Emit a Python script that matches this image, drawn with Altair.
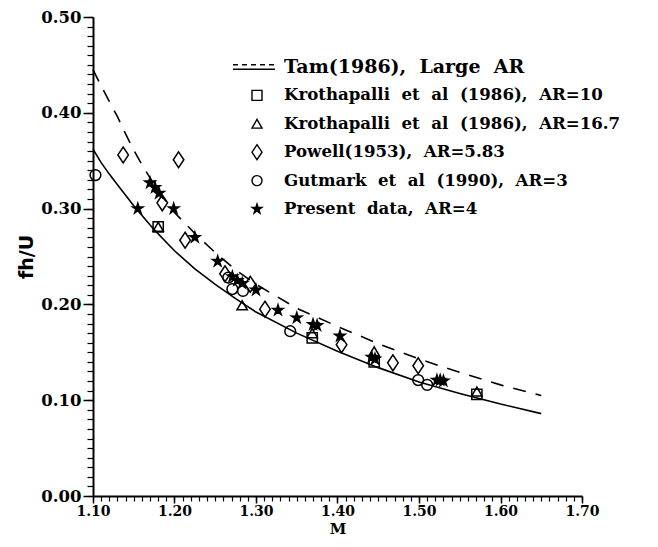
import altair as alt
import pandas as pd

# ---------------- data ----------------
series_names = [
    "Tam(1986), Large AR",
    "Krothapalli et al (1986), AR=10",
    "Krothapalli et al (1986), AR=16.7",
    "Powell(1953), AR=5.83",
    "Gutmark et al (1990), AR=3",
    "Present data, AR=4",
]
legend_rows = [0, 1, 2, 3, 4, 5]

# Tam (1986) curves
tam_dash_M = [1.10, 1.11, 1.12, 1.13, 1.14, 1.15, 1.16, 1.17, 1.18, 1.19, 1.20,
              1.225, 1.25, 1.275, 1.30, 1.35, 1.40, 1.45, 1.50, 1.55, 1.60, 1.65]
tam_dash_v = [0.445, 0.428, 0.412, 0.396, 0.378, 0.361, 0.346, 0.332, 0.319, 0.307, 0.296,
              0.274, 0.254, 0.236, 0.221, 0.196, 0.177, 0.159, 0.143, 0.129, 0.116, 0.105]
tam_solid_M = [1.10, 1.11, 1.12, 1.13, 1.15, 1.175, 1.20, 1.225, 1.25, 1.275, 1.30,
               1.35, 1.40, 1.45, 1.50, 1.55, 1.60, 1.65]
tam_solid_v = [0.362, 0.348, 0.336, 0.325, 0.303, 0.278, 0.256, 0.237, 0.221, 0.206, 0.192,
               0.170, 0.151, 0.134, 0.119, 0.107, 0.096, 0.086]

# Krothapalli et al (1986), AR=10  (squares)
sq_M = [1.180, 1.369, 1.445, 1.571]
sq_v = [0.281, 0.165, 0.140, 0.106]
# Krothapalli et al (1986), AR=16.7  (triangles)
tri_M = [1.180, 1.283, 1.369, 1.445, 1.571]
tri_v = [0.281, 0.199, 0.170, 0.151, 0.109]
# Powell (1953), AR=5.83  (diamonds)
dia_M = [1.137, 1.205, 1.185, 1.213, 1.262, 1.293, 1.311, 1.405, 1.468, 1.499]
dia_v = [0.356, 0.351, 0.306, 0.267, 0.232, 0.221, 0.195, 0.158, 0.139, 0.136]
# Gutmark et al (1990), AR=3  (circles)
cir_M = [1.103, 1.266, 1.271, 1.284, 1.342, 1.499, 1.510]
cir_v = [0.335, 0.228, 0.216, 0.214, 0.172, 0.121, 0.116]
# Present data, AR=4  (stars)
star_M = [1.155, 1.170, 1.176, 1.181, 1.199, 1.225, 1.253, 1.271, 1.277, 1.283, 1.300,
          1.327, 1.350, 1.370, 1.375, 1.403, 1.442, 1.446, 1.522, 1.526, 1.530]
star_v = [0.300, 0.327, 0.322, 0.316, 0.300, 0.270, 0.245, 0.229, 0.225, 0.222, 0.215,
          0.194, 0.186, 0.179, 0.178, 0.167, 0.145, 0.143, 0.121, 0.121, 0.120]

x_major = [1.10, 1.20, 1.30, 1.40, 1.50, 1.60, 1.70]
y_major = [0.00, 0.10, 0.20, 0.30, 0.40, 0.50]
x_minor = [round(1.10 + i * 0.01, 2) for i in range(61)]
y_minor = [round(i * 0.01, 2) for i in range(51)]

# ---------------- tables ----------------
pts = pd.concat([
    pd.DataFrame({"M": sq_M, "v": sq_v, "series": series_names[1]}),
    pd.DataFrame({"M": tri_M, "v": tri_v, "series": series_names[2]}),
    pd.DataFrame({"M": dia_M, "v": dia_v, "series": series_names[3]}),
    pd.DataFrame({"M": cir_M, "v": cir_v, "series": series_names[4]}),
    pd.DataFrame({"M": star_M, "v": star_v, "series": series_names[5]}),
], ignore_index=True)
dash_df = pd.DataFrame({"M": tam_dash_M, "v": tam_dash_v})
solid_df = pd.DataFrame({"M": tam_solid_M, "v": tam_solid_v})
leg_df = pd.DataFrame({
    "series": series_names,
    "row": legend_rows,
    "label": [s.replace(" ", "\u00a0 ") for s in series_names],
})

# ---------------- symbols ----------------
tam_sym = ("M-4.8,-0.45H-3.8M-3,-0.45H-2M-1.2,-0.45H-0.2M0.6,-0.45H1.6M2.4,-0.45H3.4"
           "M-4.8,0.45H3.6")
diamond_sym = "M0,-1.5L1,0L0,1.5L-1,0Z"
star_sym = ("M0,-1L0.223,-0.307L0.951,-0.309L0.361,0.117L0.588,0.809L0,0.38"
            "L-0.588,0.809L-0.361,0.117L-0.951,-0.309L-0.223,-0.307Z")
shape_range = [tam_sym, "square", "triangle-up", diamond_sym, "circle", star_sym]
fill_range = ["transparent", "transparent", "transparent", "transparent", "transparent", "black"]
size_range = [100, 120, 140, 130, 190, 200]

shape_scale = alt.Scale(domain=series_names, range=shape_range)
fill_scale = alt.Scale(domain=series_names, range=fill_range)

xscale = alt.Scale(domain=[1.10, 1.70], nice=False, zero=False)
yscale = alt.Scale(domain=[0.0, 0.5], nice=False)

LABEL_FONT = "DejaVu Serif"

x_major_axis = alt.Axis(values=x_major, format=".2f", orient="bottom", tickSize=7,
                        tickWidth=1.5, tickColor="black", domainWidth=2, domainColor="black",
                        labelFont=LABEL_FONT, labelFontWeight="bold", labelFontSize=14,
                        labelColor="black", labelPadding=1, labelFlush=False, grid=False,
                        title="M", titleFont=LABEL_FONT, titleFontWeight="bold",
                        titleFontSize=15, titleColor="black", titlePadding=3)
x_minor_axis = alt.Axis(values=x_minor, orient="bottom", labels=False, tickSize=5,
                        tickWidth=1.2, tickColor="black", domain=False, grid=False, title="")
y_major_axis = alt.Axis(values=y_major, format=".2f", orient="left", tickSize=10,
                        tickWidth=1.5, tickColor="black", domainWidth=2, domainColor="black",
                        labelFont=LABEL_FONT, labelFontWeight="bold", labelFontSize=16.5,
                        labelColor="black", labelPadding=2, labelFlush=False, grid=False,
                        title="fh/U", titleFont="DejaVu Sans", titleFontWeight="bold",
                        titleFontSize=19, titleColor="black", titlePadding=4)
y_minor_axis = alt.Axis(values=y_minor, orient="left", labels=False, tickSize=6,
                        tickWidth=1.2, tickColor="black", domain=False, grid=False, title="")

solid = alt.Chart(solid_df).mark_line(color="black", strokeWidth=1.6).encode(
    x=alt.X("M:Q", scale=xscale, axis=x_minor_axis),
    y=alt.Y("v:Q", scale=yscale, axis=y_minor_axis),
)
dashed = alt.Chart(dash_df).mark_line(color="black", strokeWidth=1.6, strokeDash=[13, 10]).encode(
    x=alt.X("M:Q", scale=xscale, axis=x_major_axis),
    y=alt.Y("v:Q", scale=yscale, axis=y_major_axis),
)

points = alt.Chart(pts).mark_point(filled=True, stroke="black", strokeWidth=1.5, opacity=1).encode(
    x=alt.X("M:Q", scale=xscale, axis=None),
    y=alt.Y("v:Q", scale=yscale, axis=None),
    shape=alt.Shape("series:N", scale=shape_scale, legend=None),
    fill=alt.Fill("series:N", scale=fill_scale, legend=None),
    size=alt.Size("series:N", scale=alt.Scale(domain=series_names, range=size_range), legend=None),
)

# legend drawn as its own layer (rows placed by a row scale)
row_scale = alt.Scale(domain=[0, 5], range=[50, 192])
leg_sym = alt.Chart(leg_df).mark_point(filled=True, stroke="black", strokeWidth=1.4,
                                       opacity=1, size=100).encode(
    x=alt.value(164),
    y=alt.Y("row:Q", scale=row_scale, axis=None),
    shape=alt.Shape("series:N", scale=shape_scale, legend=None),
    fill=alt.Fill("series:N", scale=fill_scale, legend=None),
)
leg_txt = alt.Chart(leg_df).mark_text(align="left", baseline="middle", font=LABEL_FONT,
                                      fontWeight="bold", color="black").encode(
    x=alt.value(191),
    y=alt.Y("row:Q", scale=row_scale, axis=None),
    text="label:N",
    size=alt.condition(alt.datum.row == 0, alt.value(19), alt.value(16.6)),
)

chart = alt.layer(solid, dashed, points, leg_sym, leg_txt).resolve_axis(
    x="independent", y="independent"
).resolve_scale(y="independent").properties(
    width=489, height=479,
    padding={"left": 85, "top": 9, "right": 68, "bottom": 40},
    autosize=alt.AutoSizeParams(type="none"),
    background="white",
).configure_view(stroke=None)

chart.save("out.html", embed_options={"renderer": "svg", "actions": False})
